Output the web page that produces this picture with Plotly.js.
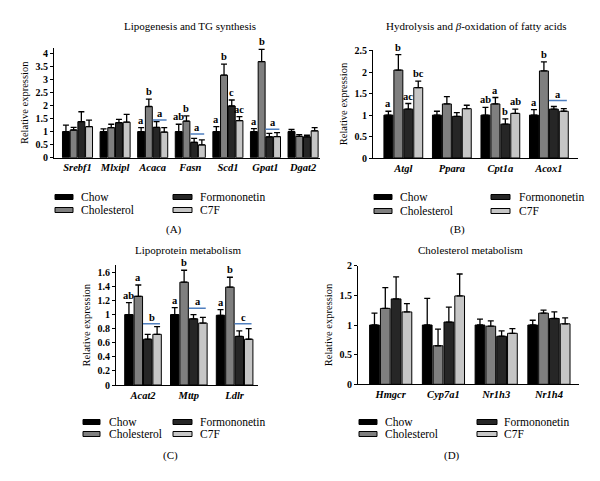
<!DOCTYPE html>
<html><head><meta charset="utf-8">
<script src="https://cdn.plot.ly/plotly-3.0.1.min.js"></script>
<style>html,body{margin:0;padding:0;background:#fff}#chart{width:600px;height:481px}</style>
</head><body><div id="chart"></div>
<script>
const seriesNames = ['Chow', 'Cholesterol', 'Formononetin', 'C7F'];
const seriesColors = ['#000000', '#7f7f7f', '#262626', '#c6c6c6'];

// Panel A: Lipogenesis and TG synthesis
const catsA = ['Srebf1', 'Mlxipl', 'Acaca', 'Fasn', 'Scd1', 'Gpat1', 'Dgat2'];
const chowA = [1, 1, 1, 1, 1, 1, 1];
const chowErrA = [0.25, 0.10, 0.15, 0.28, 0.19, 0.11, 0.08];
const cholA = [1.06, 1.15, 1.96, 1.40, 3.16, 3.68, 0.82];
const cholErrA = [0.10, 0.13, 0.28, 0.20, 0.42, 0.47, 0.06];
const formA = [1.38, 1.34, 1.16, 0.59, 1.98, 0.80, 0.80];
const formErrA = [0.38, 0.13, 0.22, 0.15, 0.23, 0.13, 0.06];
const c7fA = [1.19, 1.36, 0.98, 0.49, 1.42, 0.81, 1.03];
const c7fErrA = [0.25, 0.30, 0.17, 0.19, 0.15, 0.15, 0.12];
const chowLetA = ['', '', 'a', 'ab', 'a', 'a', ''];
const cholLetA = ['', '', 'b', 'b', 'b', 'b', ''];
const formLetA = ['', '', '', '', 'c', '', ''];
const c7fLetA = ['', '', '', '', 'ac', '', ''];
const sigCatsA = ['Acaca', 'Fasn', 'Gpat1'];
const sigYA = [1.44, 0.91, 1.09];
const sigLabA = ['a', 'a', 'a'];

// Panel B: Hydrolysis and beta-oxidation of fatty acids
const catsB = ['Atgl', 'Ppara', 'Cpt1a', 'Acox1'];
const chowB = [1, 1, 1, 1];
const chowErrB = [0.09, 0.09, 0.18, 0.13];
const cholB = [2.05, 1.26, 1.26, 2.03];
const cholErrB = [0.36, 0.17, 0.15, 0.21];
const formB = [1.14, 0.97, 0.79, 1.14];
const formErrB = [0.13, 0.09, 0.12, 0.06];
const c7fB = [1.64, 1.15, 1.04, 1.09];
const c7fErrB = [0.15, 0.08, 0.10, 0.06];
const chowLetB = ['a', '', 'ab', 'a'];
const cholLetB = ['b', '', 'a', 'b'];
const formLetB = ['ac', '', 'b', ''];
const c7fLetB = ['bc', '', 'ab', ''];
const sigCatsB = ['Acox1'];
const sigYB = [1.34];
const sigLabB = ['a'];

// Panel C: Lipoprotein metabolism
const catsC = ['Acat2', 'Mttp', 'Ldlr'];
const chowC = [1.0, 1.0, 0.99];
const chowErrC = [0.17, 0.10, 0.08];
const cholC = [1.26, 1.46, 1.39];
const cholErrC = [0.16, 0.17, 0.14];
const formC = [0.65, 0.94, 0.69];
const formErrC = [0.07, 0.06, 0.08];
const c7fC = [0.72, 0.88, 0.65];
const c7fErrC = [0.11, 0.08, 0.15];
const chowLetC = ['ab', 'a', 'a'];
const cholLetC = ['a', 'b', 'b'];
const formLetC = ['', '', ''];
const c7fLetC = ['', '', ''];
const sigCatsC = ['Acat2', 'Mttp', 'Ldlr'];
const sigYC = [0.87, 1.09, 0.87];
const sigLabC = ['b', 'a', 'c'];

// Panel D: Cholesterol metabolism
const catsD = ['Hmgcr', 'Cyp7a1', 'Nr1h3', 'Nr1h4'];
const chowD = [1, 1, 1, 1];
const chowErrD = [0.20, 0.45, 0.10, 0.08];
const cholD = [1.28, 0.65, 0.98, 1.20];
const cholErrD = [0.35, 0.28, 0.09, 0.05];
const formD = [1.44, 1.05, 0.81, 1.11];
const formErrD = [0.37, 0.25, 0.09, 0.11];
const c7fD = [1.22, 1.49, 0.86, 1.02];
const c7fErrD = [0.14, 0.37, 0.08, 0.10];
const chowLetD = ['', '', '', ''];
const cholLetD = ['', '', '', ''];
const formLetD = ['', '', '', ''];
const c7fLetD = ['', '', '', ''];

const panelTitles = ['Lipogenesis and TG synthesis', 'Hydrolysis and <i>β</i>-oxidation of fatty acids', 'Lipoprotein metabolism', 'Cholesterol metabolism'];
const panelLabels = ['(A)', '(B)', '(C)', '(D)'];
const yTitle = 'Relative expression';

const W = 600, H = 481;
const FONT = 'Liberation Serif, Times New Roman, serif';
const BARGAP = 0.18;

const px = x => x / W;
const py = y => 1 - y / H;

const panels = [
  { cats: catsA, vals: [chowA, cholA, formA, c7fA], errs: [chowErrA, cholErrA, formErrA, c7fErrA],
    lets: [chowLetA, cholLetA, formLetA, c7fLetA], sig: [sigCatsA, sigYA, sigLabA],
    xd: [54, 320], yd: [157.7, 48], xr: [-0.625, 6.45], yr: [0, 4.2], dtick: 0.5,
    title: [190, 26], label: [174, 229],
    leg: { c1: [55, 73, 79], c2: [173, 192, 198], rows: [197, 210] } },
  { cats: catsB, vals: [chowB, cholB, formB, c7fB], errs: [chowErrB, cholErrB, formErrB, c7fErrB],
    lets: [chowLetB, cholLetB, formLetB, c7fLetB], sig: [sigCatsB, sigYB, sigLabB],
    xd: [373, 578], yd: [158, 49.9], xr: [-0.625, 3.6], yr: [0, 2.52], dtick: 0.5,
    title: [476, 26], label: [457, 229],
    leg: { c1: [374, 392, 398], c2: [491, 510, 517], rows: [197, 211] } },
  { cats: catsC, vals: [chowC, cholC, formC, c7fC], errs: [chowErrC, cholErrC, formErrC, c7fErrC],
    lets: [chowLetC, cholLetC, formLetC, c7fLetC], sig: [sigCatsC, sigYC, sigLabC],
    xd: [116, 257.5], yd: [385, 265.3], xr: [-0.59, 2.5], yr: [0, 1.7], dtick: 0.2,
    title: [188, 250], label: [170, 455],
    leg: { c1: [83, 100, 107], c2: [173, 192, 198], rows: [422, 434] } },
  { cats: catsD, vals: [chowD, cholD, formD, c7fD], errs: [chowErrD, cholErrD, formErrD, c7fErrD],
    lets: [chowLetD, cholLetD, formLetD, c7fLetD], sig: [[], [], []],
    xd: [358, 579], yd: [384.3, 265.7], xr: [-0.62, 3.57], yr: [0, 2], dtick: 0.5,
    title: [470, 250], label: [452, 455],
    leg: { c1: [359, 377, 383], c2: [477, 497, 502], rows: [422, 434] } }
];

const traces = [];
const annotations = [];
const shapes = [];
const layout = {
  width: W, height: H,
  margin: { l: 0, r: 0, t: 0, b: 0 },
  paper_bgcolor: '#ffffff', plot_bgcolor: '#ffffff',
  barmode: 'group', bargap: BARGAP, bargroupgap: 0.1,
  showlegend: false,
  font: { family: FONT, color: '#000', size: 10 }
};

const slot = (1 - BARGAP) / 4;
const offsetOf = i => -(1 - BARGAP) / 2 + slot * (i + 0.5);

panels.forEach((p, k) => {
  const n = k === 0 ? '' : String(k + 1);
  const xa = 'x' + n, ya = 'y' + n;
  p.vals.forEach((v, i) => {
    traces.push({
      type: 'bar', x: p.cats, y: v, name: seriesNames[i],
      xaxis: xa, yaxis: ya,
      marker: { color: seriesColors[i], line: { color: '#000', width: 1 } },
      error_y: { type: 'data', symmetric: false, array: p.errs[i], arrayminus: v.map(() => 0),
        color: '#000', thickness: 1.3, width: 3 },
      hoverinfo: 'skip'
    });
    p.lets[i].forEach((t, j) => {
      if (!t) return;
      annotations.push({ xref: xa, yref: ya, x: j + offsetOf(i), y: v[j] + p.errs[i][j],
        text: '<b>' + t + '</b>', showarrow: false, xanchor: 'center', yanchor: 'bottom', yshift: 0,
        font: { family: FONT, size: 10.5, color: '#000' } });
    });
  });
  const [sc, sy, sl] = p.sig;
  sc.forEach((c, j) => {
    const ci = p.cats.indexOf(c);
    shapes.push({ type: 'line', xref: xa, yref: ya, x0: ci + 0.0, x1: ci + 0.37, y0: sy[j], y1: sy[j],
      line: { color: '#4f7fbf', width: 1.5 } });
    annotations.push({ xref: xa, yref: ya, x: ci + 0.19, y: sy[j], text: '<b>' + sl[j] + '</b>',
      showarrow: false, xanchor: 'center', yanchor: 'bottom', yshift: -1,
      font: { family: FONT, size: 10.5, color: '#000' } });
  });
  layout['xaxis' + n] = {
    domain: [px(p.xd[0]), px(p.xd[1])], anchor: ya, type: 'category', range: p.xr,
    showline: true, linecolor: '#000', linewidth: 1, ticks: '', showgrid: false, zeroline: false,
    tickfont: { family: FONT, size: 10.5, color: '#000', style: 'italic', weight: 'bold' }, fixedrange: true
  };
  layout['yaxis' + n] = {
    domain: [py(p.yd[0]), py(p.yd[1])], anchor: xa, range: p.yr, dtick: p.dtick, tick0: 0,
    showline: true, linecolor: '#000', linewidth: 1, ticks: 'outside', ticklen: 3, tickcolor: '#000',
    showgrid: false, zeroline: false,
    tickfont: { family: FONT, size: 10, color: '#000', weight: 'bold' },
    title: { text: yTitle, font: { family: FONT, size: 10.5, color: '#000' }, standoff: 4 }, fixedrange: true
  };
  annotations.push({ xref: 'paper', yref: 'paper', x: px(p.title[0]), y: py(p.title[1]), text: panelTitles[k],
    showarrow: false, xanchor: 'center', yanchor: 'middle', font: { family: FONT, size: 11, color: '#000' } });
  annotations.push({ xref: 'paper', yref: 'paper', x: px(p.label[0]), y: py(p.label[1]), text: panelLabels[k],
    showarrow: false, xanchor: 'center', yanchor: 'middle', font: { family: FONT, size: 11, color: '#000' } });
  seriesNames.forEach((name, i) => {
    const col = i < 2 ? p.leg.c1 : p.leg.c2;
    const rowY = p.leg.rows[i % 2];
    shapes.push({ type: 'rect', xref: 'paper', yref: 'paper', x0: px(col[0]), x1: px(col[1]),
      y0: py(rowY + 2.5), y1: py(rowY - 2.5), fillcolor: seriesColors[i], line: { color: '#000', width: 1 } });
    annotations.push({ xref: 'paper', yref: 'paper', x: px(col[2]), y: py(rowY), text: name, showarrow: false,
      xanchor: 'left', yanchor: 'middle', font: { family: FONT, size: 11.5, color: '#000' } });
  });
});

layout.annotations = annotations;
layout.shapes = shapes;
Plotly.newPlot('chart', traces, layout, { staticPlot: true, displayModeBar: false });
</script></body></html>
